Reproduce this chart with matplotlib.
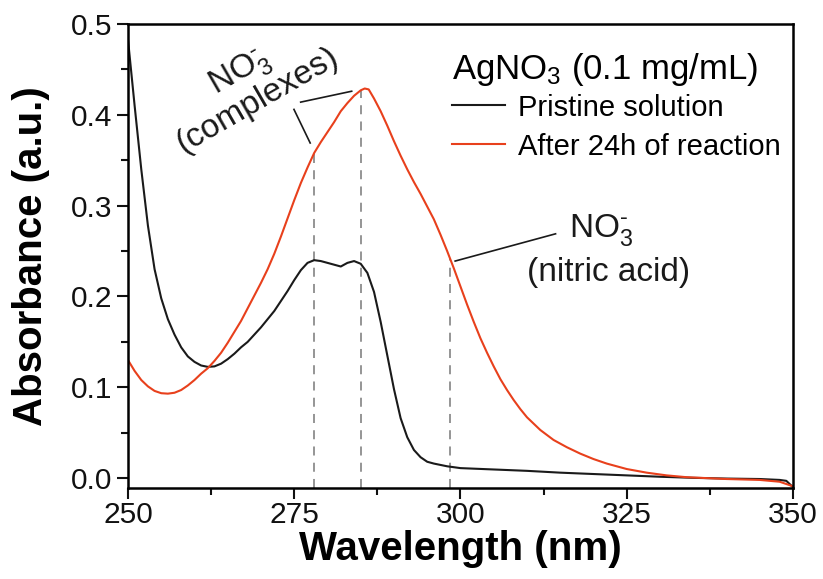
import matplotlib
matplotlib.use("Agg")
import matplotlib.pyplot as plt
from matplotlib.ticker import MultipleLocator

plt.rcParams["font.family"] = ["Liberation Sans", "DejaVu Sans"]
plt.rcParams["mathtext.fontset"] = "custom"
plt.rcParams["mathtext.rm"] = "Liberation Sans"
plt.rcParams["mathtext.it"] = "Liberation Sans:italic"

# --- data (wavelength nm, absorbance a.u.) ---
wl_pristine = [250, 251, 252, 253, 254, 255, 256, 257, 258, 259, 260, 261, 262,
               263, 264, 265, 266, 267, 268, 269, 270, 271, 272, 273, 274, 275, 276,
               277, 278, 279, 280, 281, 282, 283, 284, 285, 286, 287, 288, 289, 290,
               291, 292, 293, 294, 295, 296, 298, 300, 305, 310, 315, 320, 325, 330,
               335, 340, 345, 348, 349, 350]
abs_pristine = [0.483, 0.41, 0.34, 0.278, 0.230, 0.198, 0.175, 0.158, 0.144, 0.134,
                0.128, 0.124, 0.1225, 0.123, 0.126, 0.131, 0.137, 0.144, 0.150, 0.158,
                0.166, 0.175, 0.184, 0.195, 0.206, 0.218, 0.229, 0.237, 0.240, 0.239,
                0.237, 0.235, 0.233, 0.237, 0.239, 0.236, 0.226, 0.205, 0.172, 0.135,
                0.098, 0.066, 0.045, 0.031, 0.023, 0.018, 0.016, 0.013, 0.011, 0.0095,
                0.008, 0.006, 0.0045, 0.003, 0.0015, 0.0003, -0.0005, -0.001, -0.002,
                -0.003, -0.010]

wl_reacted = [250, 251, 252, 253, 254, 255, 256, 257, 258, 259, 260, 261, 262, 263, 264,
              265, 266, 267, 268, 269, 270, 271, 272, 273, 274, 275, 276, 277, 278, 279,
              280, 281, 282, 283, 284, 285, 285.6, 286.2, 287, 288, 289, 290, 291, 292,
              293, 294, 295, 296, 297, 298, 299, 300, 301, 302, 303, 304, 305, 306, 307,
              308, 309, 310, 312, 314, 316, 318, 320, 322, 325, 328, 331, 334, 337, 340,
              345, 348, 350]
abs_reacted = [0.130, 0.118, 0.108, 0.101, 0.096, 0.0935, 0.093, 0.094, 0.097, 0.102,
               0.108, 0.115, 0.121, 0.129, 0.138, 0.149, 0.161, 0.173, 0.187, 0.201,
               0.215, 0.230, 0.247, 0.266, 0.286, 0.306, 0.325, 0.342, 0.358, 0.370,
               0.381, 0.392, 0.404, 0.413, 0.421, 0.427, 0.429, 0.428, 0.418, 0.404,
               0.388, 0.371, 0.355, 0.340, 0.326, 0.313, 0.299, 0.285, 0.268, 0.250,
               0.231, 0.211, 0.191, 0.172, 0.154, 0.138, 0.123, 0.109, 0.097, 0.086,
               0.076, 0.067, 0.053, 0.042, 0.034, 0.027, 0.021, 0.016, 0.010, 0.006,
               0.003, 0.001, 0.0, -0.001, -0.002, -0.004, -0.009]

# peak markers (wavelength, height of dashed guide)
peak_wl = [278, 285, 298.5]
peak_top = [0.358, 0.427, 0.241]

red = "#e8401c"
dark = "#1a1a1a"
hy = "\u2010"  # short superscript dash as in the original

fig = plt.figure(figsize=(8.23, 5.79), dpi=100)
ax = fig.add_axes([0.1555, 0.157, 0.808, 0.8015])

ymin = -0.011
ax.vlines(peak_wl, ymin, peak_top, colors="#8c8c8c", linestyles=(0, (5, 4)), lw=1.3)

ax.plot(wl_pristine, abs_pristine, color=dark, lw=1.5, label="Pristine solution")
ax.plot(wl_reacted, abs_reacted, color=red, lw=1.5, label="After 24h of reaction")

# annotation leader lines
ax.plot([274.96, 277.4], [0.406, 0.369], color=dark, lw=1.2)
ax.plot([275.97, 283.64], [0.414, 0.426], color=dark, lw=1.2)
ax.plot([299.2, 314.3], [0.239, 0.269], color=dark, lw=1.2)

ax.text(266.8, 0.447, r"NO$_3^{" + hy + "}$", rotation=30, fontsize=24, ha="center",
        va="center", color=dark, rotation_mode="anchor")
ax.text(269.6, 0.416, "(complexes)", rotation=30, fontsize=24, ha="center", va="center",
        color=dark, rotation_mode="anchor")
ax.text(321.2, 0.273, r"NO$_3^{" + hy + "}$", fontsize=24, ha="center", va="center",
        color=dark)
ax.text(322.3, 0.226, "(nitric acid)", fontsize=24, ha="center", va="center", color=dark)

ax.set_xlim(250, 350)
ax.set_ylim(ymin, 0.5)
ax.xaxis.set_major_locator(MultipleLocator(25))
ax.xaxis.set_minor_locator(MultipleLocator(12.5))
ax.yaxis.set_major_locator(MultipleLocator(0.1))
ax.yaxis.set_minor_locator(MultipleLocator(0.05))
ax.yaxis.set_major_formatter(plt.FormatStrFormatter("%.1f"))
ax.tick_params(which="both", direction="out", width=1.5, labelsize=21.5, colors="#111111")
ax.tick_params(which="major", length=8, pad=3)
ax.tick_params(axis="x", which="major", pad=1)
ax.tick_params(which="minor", length=5)
for s in ax.spines.values():
    s.set_linewidth(1.8)

ax.set_xlabel("Wavelength (nm)", fontsize=29, fontweight="bold", labelpad=1)
ax.set_ylabel("Absorbance (a.u.)", fontsize=29, fontweight="bold", labelpad=15)

leg = ax.legend(title=r"AgNO$_3$ (0.1 mg/mL)", loc="upper left",
                bbox_to_anchor=(0.488, 0.942), frameon=False, fontsize=21,
                title_fontsize=25, handlelength=1.8, handletextpad=0.45,
                labelspacing=0.38, borderpad=0, borderaxespad=0, alignment="left")
leg._legend_box.sep = 4
for line in leg.get_lines():
    line.set_linewidth(1.5)

fig.savefig("out.png", dpi=100)
